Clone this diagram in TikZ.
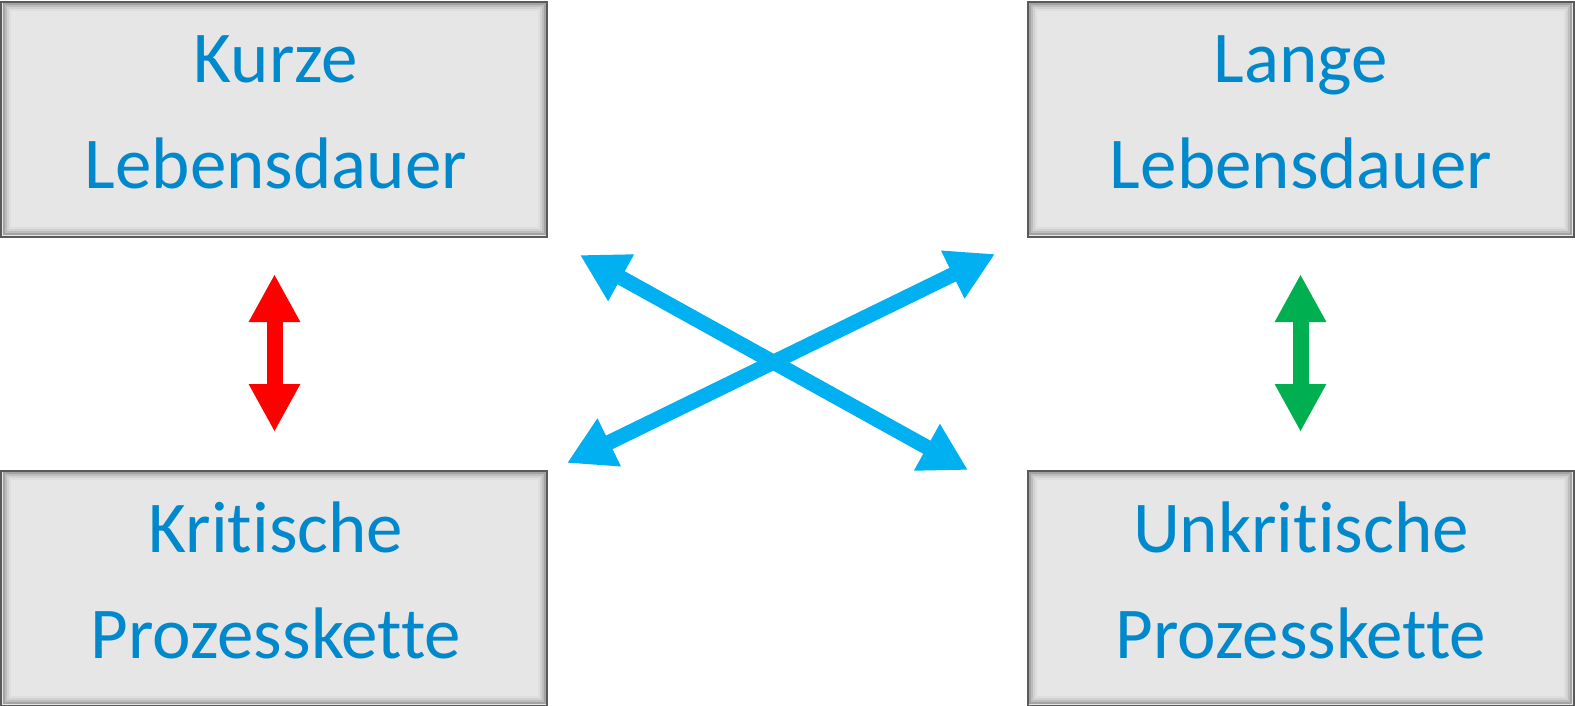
\documentclass[tikz,border=0pt]{standalone}
\usepackage{fontspec}
\setmainfont[Ligatures={NoCommon}]{Carlito}
\usetikzlibrary{arrows.meta}
\definecolor{boxfill}{HTML}{E6E6E6}
\definecolor{boxline}{HTML}{5A5A5A}
\definecolor{txtblue}{HTML}{0088CC}
\definecolor{arrred}{HTML}{FF0000}
\definecolor{arrgreen}{HTML}{00B050}
\definecolor{arrcyan}{HTML}{00B0F0}
\tikzset{
  box/.style={draw=boxline, line width=2pt, fill=boxfill, minimum width=546pt, minimum height=235pt, inner sep=0pt, outer sep=0pt},
  bevA/.style={draw=black!36, line width=2pt, minimum width=541pt, minimum height=230pt, inner sep=0pt},
  bevB/.style={draw=black!26, line width=2pt, minimum width=537pt, minimum height=226pt, inner sep=0pt},
  bevC/.style={draw=black!18, line width=2pt, minimum width=533pt, minimum height=222pt, inner sep=0pt},
  bevD/.style={draw=black!13, line width=2pt, minimum width=529pt, minimum height=218pt, inner sep=0pt},
  label/.style={text=txtblue, align=center, font=\fontsize{73}{106}\selectfont, inner sep=0pt},
  vdarrow/.style={line width=16pt, {Triangle[width=48pt,length=48pt]}-{Triangle[width=48pt,length=48pt]}},
  xarrow/.style={draw=arrcyan, line width=15pt, {Triangle[width=50pt,length=47pt]}-{Triangle[width=50pt,length=47pt]}}
}
\begin{document}
\begin{tikzpicture}[x=1pt,y=-1pt]
\useasboundingbox (0,0) rectangle (1575,705);
% boxes
\foreach \n/\cx/\cy in {tl/274/119, tr/1300.5/119, bl/274/588, br/1300.5/588}{
  \node[box] (\n) at (\cx,\cy) {};
  \node[bevA] (\n-a) at (\cx,\cy) {};
  \node[bevB] (\n-b) at (\cx,\cy) {};
  \node[bevC] (\n-c) at (\cx,\cy) {};
  \node[bevD] (\n-d) at (\cx,\cy) {};
}
% texts
\node[label] (tl-text) at (276,112) {Kurze\\Lebensdauer};
\node[label] (tr-text) at (1301,112) {Lange\\Lebensdauer};
\node[label] (bl-text) at (276,580) {Kritische\\Prozesskette};
\node[label] (br-text) at (1301,580) {Unkritische\\Prozesskette};
% arrow end points
\coordinate (r1) at (274.5,274);
\coordinate (r2) at (274.5,432);
\coordinate (g1) at (1300.5,274);
\coordinate (g2) at (1300.5,432);
\coordinate (c1) at (580,255);
\coordinate (c2) at (968,470);
\coordinate (c3) at (567,463);
\coordinate (c4) at (995,254);
% arrows
\draw[vdarrow, draw=arrred, fill=arrred] (r1) -- (r2);
\draw[vdarrow, draw=arrgreen, fill=arrgreen] (g1) -- (g2);
\draw[xarrow, fill=arrcyan] (c1) -- (c2);
\draw[xarrow, fill=arrcyan] (c3) -- (c4);
\end{tikzpicture}
\end{document}
